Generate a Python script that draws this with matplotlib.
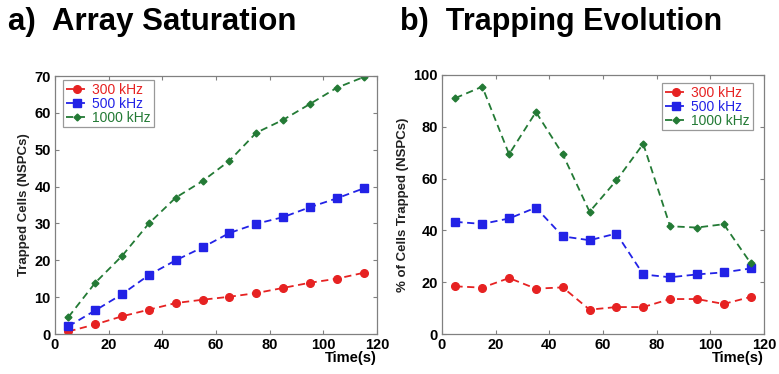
import matplotlib.pyplot as plt

# time points (s)
time = [5, 15, 25, 35, 45, 55, 65, 75, 85, 95, 105, 115]

# a) trapped cells
sat_300 = [0.7, 2.6, 4.8, 6.6, 8.4, 9.3, 10.1, 11.1, 12.5, 13.9, 15.0, 16.6]
sat_500 = [2.1, 6.4, 10.8, 16.0, 20.0, 23.5, 27.4, 29.9, 31.7, 34.4, 36.8, 39.5]
sat_1000 = [4.6, 13.9, 21.2, 30.0, 37.0, 41.5, 47.0, 54.6, 58.1, 62.4, 66.8, 69.7]

# b) percent trapped
pct_300 = [18.4, 17.9, 21.6, 17.5, 18.0, 9.4, 10.4, 10.4, 13.5, 13.5, 11.6, 14.3]
pct_500 = [43.3, 42.5, 44.6, 48.8, 37.7, 36.2, 38.8, 23.0, 21.9, 23.0, 23.8, 25.3]
pct_1000 = [91.1, 95.5, 69.4, 85.7, 69.4, 47.2, 59.3, 73.4, 41.6, 41.1, 42.4, 27.4]

labels = ['300 kHz', '500 kHz', '1000 kHz']
colors = ['#e62222', '#2222e6', '#237a35']
markers = ['o', 's', 'D']
msizes = [5.5, 5.5, 3.5]

plt.rcParams['font.family'] = ['Liberation Sans', 'DejaVu Sans']

fig = plt.figure(figsize=(7.79, 3.74), dpi=100)
W, H = 779., 374.
ax1 = fig.add_axes([55/W, 40/H, 322/W, 258/H])
ax2 = fig.add_axes([442/W, 40/H, 322/W, 259/H])


def style(ax, ymax, ystep, ylabel):
	ax.set_xlim(0, 120)
	ax.set_ylim(0, ymax)
	ax.set_xticks(range(0, 121, 20))
	ax.set_yticks(range(0, ymax + 1, ystep))
	for sp in ax.spines.values():
		sp.set_color('#808080')
		sp.set_linewidth(0.9)
	ax.tick_params(direction='in', top=True, right=True, length=3,
	               color='#808080', labelsize=10.5, pad=3)
	for t in ax.get_xticklabels() + ax.get_yticklabels():
		t.set_fontweight('bold')
	ax.set_ylabel(ylabel, fontsize=9.5, fontweight='bold', color='#222222', labelpad=3)
	ax.text(1.0, -0.065, 'Time(s)', transform=ax.transAxes, ha='right', va='top',
	        fontsize=10.5, fontweight='bold')


def draw(ax, series, loc, anchor):
	for y, lab, c, m, ms in zip(series, labels, colors, markers, msizes):
		ax.plot(time, y, '--', color=c, marker=m, markersize=ms, linewidth=1.3,
		        dashes=(4, 2.5), label=lab)
	leg = ax.legend(loc=loc, bbox_to_anchor=anchor, fontsize=10, frameon=True,
	                fancybox=False, borderpad=0.2, labelspacing=0.0,
	                handlelength=1.6, handletextpad=0.3, borderaxespad=0)
	leg.get_frame().set_edgecolor('#808080')
	leg.get_frame().set_linewidth(0.9)
	for t, c in zip(leg.get_texts(), colors):
		t.set_color(c)


draw(ax1, [sat_300, sat_500, sat_1000], 'upper left', (0.025, 0.985))
style(ax1, 70, 10, 'Trapped Cells (NSPCs)')
draw(ax2, [pct_300, pct_500, pct_1000], 'upper right', (0.965, 0.97))
style(ax2, 100, 20, '% of Cells Trapped (NSPCs)')

fig.text(8/W, 1 - 22/H, 'a)  Array Saturation', fontsize=22.5, fontweight='bold',
         va='center', ha='left')
fig.text(400/W, 1 - 22/H, 'b)  Trapping Evolution', fontsize=22, fontweight='bold',
         va='center', ha='left')

fig.savefig('out.png', dpi=100)
